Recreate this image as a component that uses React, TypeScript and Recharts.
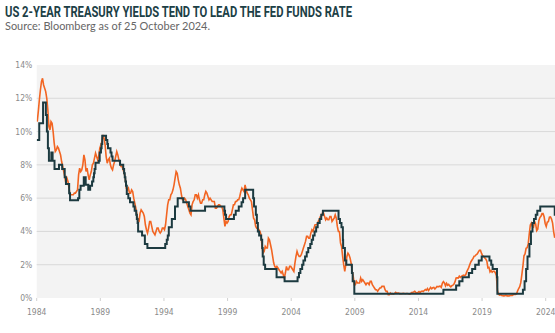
import React from "react";
import { LineChart, Line, XAxis, YAxis, CartesianGrid } from "recharts";

// ---- Data ----
const titleText = "US 2-YEAR TREASURY YIELDS TEND TO LEAD THE FED FUNDS RATE";
const subtitleText = "Source: Bloomberg as of 25 October 2024.";

const yearTicks = [1984, 1989, 1994, 1999, 2004, 2009, 2014, 2019, 2024];
const percentTicks = [0, 2, 4, 6, 8, 10, 12, 14];
const gridValues = [2, 4, 6, 8, 10, 12];

const yieldStartYear = 1984;
// US 2-year Treasury yield, monthly (%), Jan 1984 onward
const twoYearYield = [
  10.6, 11.2, 11.9, 12.5, 13.0, 13.2, 12.8, 12.6, 12.4, 12.0, 11.3, 10.3, // 1984
  10.1, 10.6, 10.5, 10.0, 9.3, 8.8, 8.9, 9.1, 9.0, 8.8, 8.6, 8.2, // 1985
  7.9, 7.6, 7.3, 6.9, 7.2, 7.0, 6.6, 6.2, 6.2, 6.2, 6.2, 6.3, // 1986
  6.3, 6.4, 6.5, 7.4, 7.8, 7.6, 7.7, 8.0, 8.6, 8.3, 7.6, 7.8, // 1987
  7.4, 7.1, 7.4, 7.6, 8.0, 8.1, 8.4, 8.7, 8.5, 8.3, 8.5, 9.0, // 1988
  9.2, 9.4, 9.8, 9.6, 9.2, 8.5, 8.1, 8.3, 8.4, 8.0, 7.8, 7.7, // 1989
  8.0, 8.2, 8.5, 8.8, 8.6, 8.3, 8.1, 7.9, 7.9, 7.7, 7.5, 7.2, // 1990
  6.6, 6.5, 6.6, 6.3, 6.3, 6.5, 6.4, 6.0, 5.7, 5.4, 5.0, 4.6, // 1991
  4.6, 5.1, 5.3, 5.2, 5.1, 4.9, 4.4, 4.1, 3.9, 4.2, 4.6, 4.6, // 1992
  4.3, 4.0, 3.9, 3.8, 4.0, 4.2, 4.2, 4.0, 3.9, 4.0, 4.2, 4.2, // 1993
  4.1, 4.4, 5.0, 5.6, 5.9, 5.9, 6.2, 6.3, 6.5, 6.8, 7.2, 7.6, // 1994
  7.5, 7.1, 6.8, 6.6, 6.2, 5.9, 5.9, 6.0, 5.9, 5.7, 5.5, 5.3, // 1995
  5.1, 5.0, 5.6, 5.8, 5.9, 6.2, 6.2, 6.0, 6.2, 5.9, 5.7, 5.7, // 1996
  5.9, 5.9, 6.2, 6.4, 6.3, 6.1, 5.9, 6.0, 5.9, 5.8, 5.8, 5.8, // 1997
  5.4, 5.4, 5.5, 5.6, 5.6, 5.5, 5.5, 5.3, 4.8, 4.3, 4.6, 4.5, // 1998
  4.6, 4.9, 5.0, 5.0, 5.3, 5.6, 5.6, 5.8, 5.8, 5.9, 5.9, 6.1, // 1999
  6.4, 6.6, 6.5, 6.4, 6.8, 6.5, 6.3, 6.2, 6.0, 5.9, 5.8, 5.3, // 2000
  4.8, 4.7, 4.3, 4.2, 4.2, 4.1, 4.0, 3.8, 3.1, 2.7, 2.8, 3.1, // 2001
  3.0, 3.0, 3.6, 3.5, 3.2, 2.9, 2.5, 2.1, 1.9, 1.8, 1.9, 1.8, // 2002
  1.7, 1.6, 1.5, 1.6, 1.4, 1.2, 1.5, 1.9, 1.7, 1.7, 1.9, 1.9, // 2003
  1.8, 1.7, 1.6, 2.1, 2.5, 2.8, 2.6, 2.5, 2.5, 2.6, 2.8, 3.0, // 2004
  3.2, 3.4, 3.7, 3.7, 3.6, 3.6, 3.9, 4.1, 4.0, 4.2, 4.4, 4.4, // 2005
  4.4, 4.6, 4.7, 4.9, 4.9, 5.1, 5.1, 4.9, 4.7, 4.8, 4.7, 4.7, // 2006
  4.9, 4.9, 4.6, 4.7, 4.8, 5.0, 4.8, 4.3, 4.0, 4.0, 3.3, 3.1, // 2007
  2.5, 2.0, 1.6, 2.0, 2.5, 2.7, 2.6, 2.4, 2.1, 1.6, 1.3, 0.8, // 2008
  0.8, 1.0, 0.9, 0.9, 0.9, 1.2, 1.0, 1.1, 1.0, 0.9, 0.8, 0.9, // 2009
  0.9, 0.8, 1.0, 1.0, 0.8, 0.7, 0.6, 0.5, 0.5, 0.4, 0.5, 0.6, // 2010
  0.6, 0.7, 0.7, 0.7, 0.5, 0.4, 0.4, 0.2, 0.2, 0.3, 0.25, 0.26, // 2011
  0.23, 0.28, 0.34, 0.29, 0.29, 0.29, 0.25, 0.27, 0.26, 0.28, 0.27, 0.26, // 2012
  0.27, 0.27, 0.26, 0.23, 0.25, 0.33, 0.34, 0.36, 0.4, 0.34, 0.3, 0.34, // 2013
  0.39, 0.33, 0.4, 0.42, 0.39, 0.45, 0.51, 0.47, 0.57, 0.45, 0.54, 0.64, // 2014
  0.55, 0.62, 0.64, 0.54, 0.61, 0.69, 0.67, 0.7, 0.71, 0.64, 0.88, 0.98, // 2015
  0.9, 0.73, 0.88, 0.77, 0.82, 0.73, 0.67, 0.74, 0.77, 0.84, 0.98, 1.2, // 2016
  1.21, 1.2, 1.31, 1.24, 1.3, 1.34, 1.37, 1.34, 1.38, 1.57, 1.7, 1.84, // 2017
  2.03, 2.18, 2.28, 2.38, 2.51, 2.53, 2.61, 2.65, 2.77, 2.86, 2.86, 2.68, // 2018
  2.54, 2.5, 2.41, 2.34, 2.21, 1.81, 1.84, 1.57, 1.65, 1.55, 1.61, 1.61, // 2019
  1.52, 1.33, 0.45, 0.22, 0.17, 0.19, 0.15, 0.14, 0.13, 0.14, 0.17, 0.13, // 2020
  0.13, 0.12, 0.15, 0.16, 0.16, 0.2, 0.22, 0.21, 0.24, 0.43, 0.57, 0.68, // 2021
  0.92, 1.4, 1.91, 2.54, 2.65, 2.99, 3.02, 3.25, 3.86, 4.38, 4.5, 4.29, // 2022
  4.25, 4.6, 4.45, 4.04, 4.13, 4.64, 4.83, 4.91, 5.07, 5.07, 4.88, 4.48, // 2023
  4.3, 4.56, 4.59, 4.86, 4.87, 4.74, 4.5, 3.97, 3.62, // 2024
];

// Fed funds target rate (upper bound) changes: [decimal year, rate %]
const fedFundsChanges: [number, number][] = [
  [1984.0, 9.5], [1984.2, 10.5], [1984.5, 11.75], [1984.72, 11.0], [1984.8, 10.0],
  [1984.88, 9.0], [1984.96, 8.25], [1985.15, 8.75], [1985.25, 8.25], [1985.4, 7.75],
  [1985.75, 8.0], [1986.0, 7.75], [1986.2, 7.25], [1986.3, 6.85], [1986.55, 6.3],
  [1986.62, 5.875], [1987.25, 6.0], [1987.35, 6.5], [1987.45, 6.75], [1987.7, 7.25],
  [1987.85, 6.8], [1988.05, 6.5], [1988.2, 6.75], [1988.35, 7.0], [1988.45, 7.25],
  [1988.5, 7.5], [1988.55, 7.75], [1988.62, 8.125], [1988.88, 8.25], [1988.95, 8.75],
  [1989.05, 9.0], [1989.1, 9.25], [1989.15, 9.75], [1989.45, 9.5], [1989.55, 9.25],
  [1989.6, 9.0], [1989.8, 8.75], [1989.88, 8.5], [1989.96, 8.25], [1990.55, 8.0],
  [1990.8, 7.75], [1990.87, 7.5], [1990.92, 7.25], [1990.97, 7.0], [1991.02, 6.75],
  [1991.08, 6.25], [1991.2, 6.0], [1991.33, 5.75], [1991.6, 5.5], [1991.7, 5.25],
  [1991.82, 5.0], [1991.87, 4.75], [1991.93, 4.5], [1991.97, 4.0], [1992.28, 3.75],
  [1992.5, 3.25], [1992.7, 3.0], [1994.1, 3.25], [1994.22, 3.5], [1994.3, 3.75],
  [1994.38, 4.25], [1994.62, 4.75], [1994.87, 5.5], [1995.08, 6.0], [1995.52, 5.75],
  [1995.96, 5.5], [1996.08, 5.25], [1997.23, 5.5], [1998.75, 5.25], [1998.8, 5.0],
  [1998.88, 4.75], [1999.5, 5.0], [1999.64, 5.25], [1999.88, 5.5], [2000.1, 5.75],
  [2000.22, 6.0], [2000.38, 6.5], [2001.01, 6.0], [2001.08, 5.5], [2001.22, 5.0],
  [2001.3, 4.5], [2001.38, 4.0], [2001.48, 3.75], [2001.64, 3.5], [2001.72, 3.0],
  [2001.76, 2.5], [2001.84, 2.0], [2001.95, 1.75], [2002.85, 1.25], [2003.48, 1.0],
  [2004.5, 1.25], [2004.61, 1.5], [2004.72, 1.75], [2004.86, 2.0], [2004.96, 2.25],
  [2005.09, 2.5], [2005.22, 2.75], [2005.34, 3.0], [2005.5, 3.25], [2005.61, 3.5],
  [2005.72, 3.75], [2005.84, 4.0], [2005.96, 4.25], [2006.08, 4.5], [2006.24, 4.75],
  [2006.36, 5.0], [2006.49, 5.25], [2007.72, 4.75], [2007.83, 4.5], [2007.95, 4.25],
  [2008.06, 3.5], [2008.08, 3.0], [2008.22, 2.25], [2008.33, 2.0], [2008.77, 1.5],
  [2008.83, 1.0], [2008.96, 0.25], [2015.96, 0.5], [2016.96, 0.75], [2017.21, 1.0],
  [2017.46, 1.25], [2017.96, 1.5], [2018.22, 1.75], [2018.46, 2.0], [2018.74, 2.25],
  [2018.97, 2.5], [2019.58, 2.25], [2019.72, 2.0], [2019.83, 1.75], [2020.17, 1.25],
  [2020.2, 0.25], [2022.21, 0.5], [2022.34, 1.0], [2022.46, 1.75], [2022.57, 2.5],
  [2022.72, 3.25], [2022.84, 4.0], [2022.96, 4.5], [2023.08, 4.75], [2023.22, 5.0],
  [2023.34, 5.25], [2023.57, 5.5], [2024.71, 5.0], [2024.82, 5.0],
];

const xDomain: [number, number] = [1984, 2024.73];

// ---- Build series tables ----
const yieldData = twoYearYield.map((v, i) => ({
  t: yieldStartYear + (i + 0.5) / 12,
  v,
}));
const fedData = fedFundsChanges.map(([t, v]) => ({ t, v }));

const ORANGE = "#f26522";
const TEAL = "#1c3a40";
const AXIS_FONT = "'Liberation Sans Narrow', 'Arial Narrow', 'DejaVu Sans Condensed', sans-serif";

export default function App() {
  return (
    <div
      style={{
        position: "absolute",
        left: 0,
        top: 0,
        width: 555,
        height: 333,
        background: "#ffffff",
        overflow: "hidden",
      }}
    >
      <LineChart
        width={555}
        height={333}
        margin={{ top: 65, right: 0, bottom: 0, left: 0 }}
      >
        <CartesianGrid
          vertical={false}
          horizontalValues={gridValues}
          stroke="#d9d9d9"
          strokeWidth={1}
          fill="#f3f3f3"
          fillOpacity={1}
        />
        <XAxis
          dataKey="t"
          type="number"
          domain={xDomain}
          allowDataOverflow
          ticks={yearTicks}
          interval={0}
          height={35}
          axisLine={false}
          tickLine={{ stroke: "#d0d0d0" }}
          tickSize={3}
          tickMargin={8}
          tick={{ fill: "#8a8a8a", fontSize: 8.5, fontFamily: AXIS_FONT }}
        />
        <YAxis
          type="number"
          domain={[0, 14]}
          ticks={percentTicks}
          interval={0}
          width={36.7}
          axisLine={false}
          tickLine={false}
          tickSize={0}
          tickMargin={4.4}
          tickFormatter={(v: number) => `${v}%`}
          tick={{ fill: "#8a8a8a", fontSize: 8.5, fontFamily: AXIS_FONT }}
        />
        <Line
          data={yieldData}
          dataKey="v"
          type="linear"
          stroke={ORANGE}
          strokeWidth={1.6}
          dot={false}
          activeDot={false}
          isAnimationActive={false}
        />
        <Line
          data={fedData}
          dataKey="v"
          type="stepAfter"
          stroke={TEAL}
          strokeWidth={2}
          dot={false}
          activeDot={false}
          isAnimationActive={false}
        />
      </LineChart>
      <svg
        width={555}
        height={40}
        style={{ position: "absolute", left: 0, top: 0, pointerEvents: "none" }}
      >
        <text
          x={5}
          y={16.7}
          fontFamily="Roboto, 'DejaVu Sans', sans-serif"
          fontWeight={700}
          fontSize={14}
          fill="#1c4046"
          textLength={347}
          lengthAdjust="spacingAndGlyphs"
        >
          {titleText}
        </text>
        <text
          x={5}
          y={30}
          fontFamily="Lato, 'Open Sans', sans-serif"
          fontSize={10.5}
          fill="#666666"
          textLength={205}
          lengthAdjust="spacingAndGlyphs"
        >
          {subtitleText}
        </text>
      </svg>
    </div>
  );
}
